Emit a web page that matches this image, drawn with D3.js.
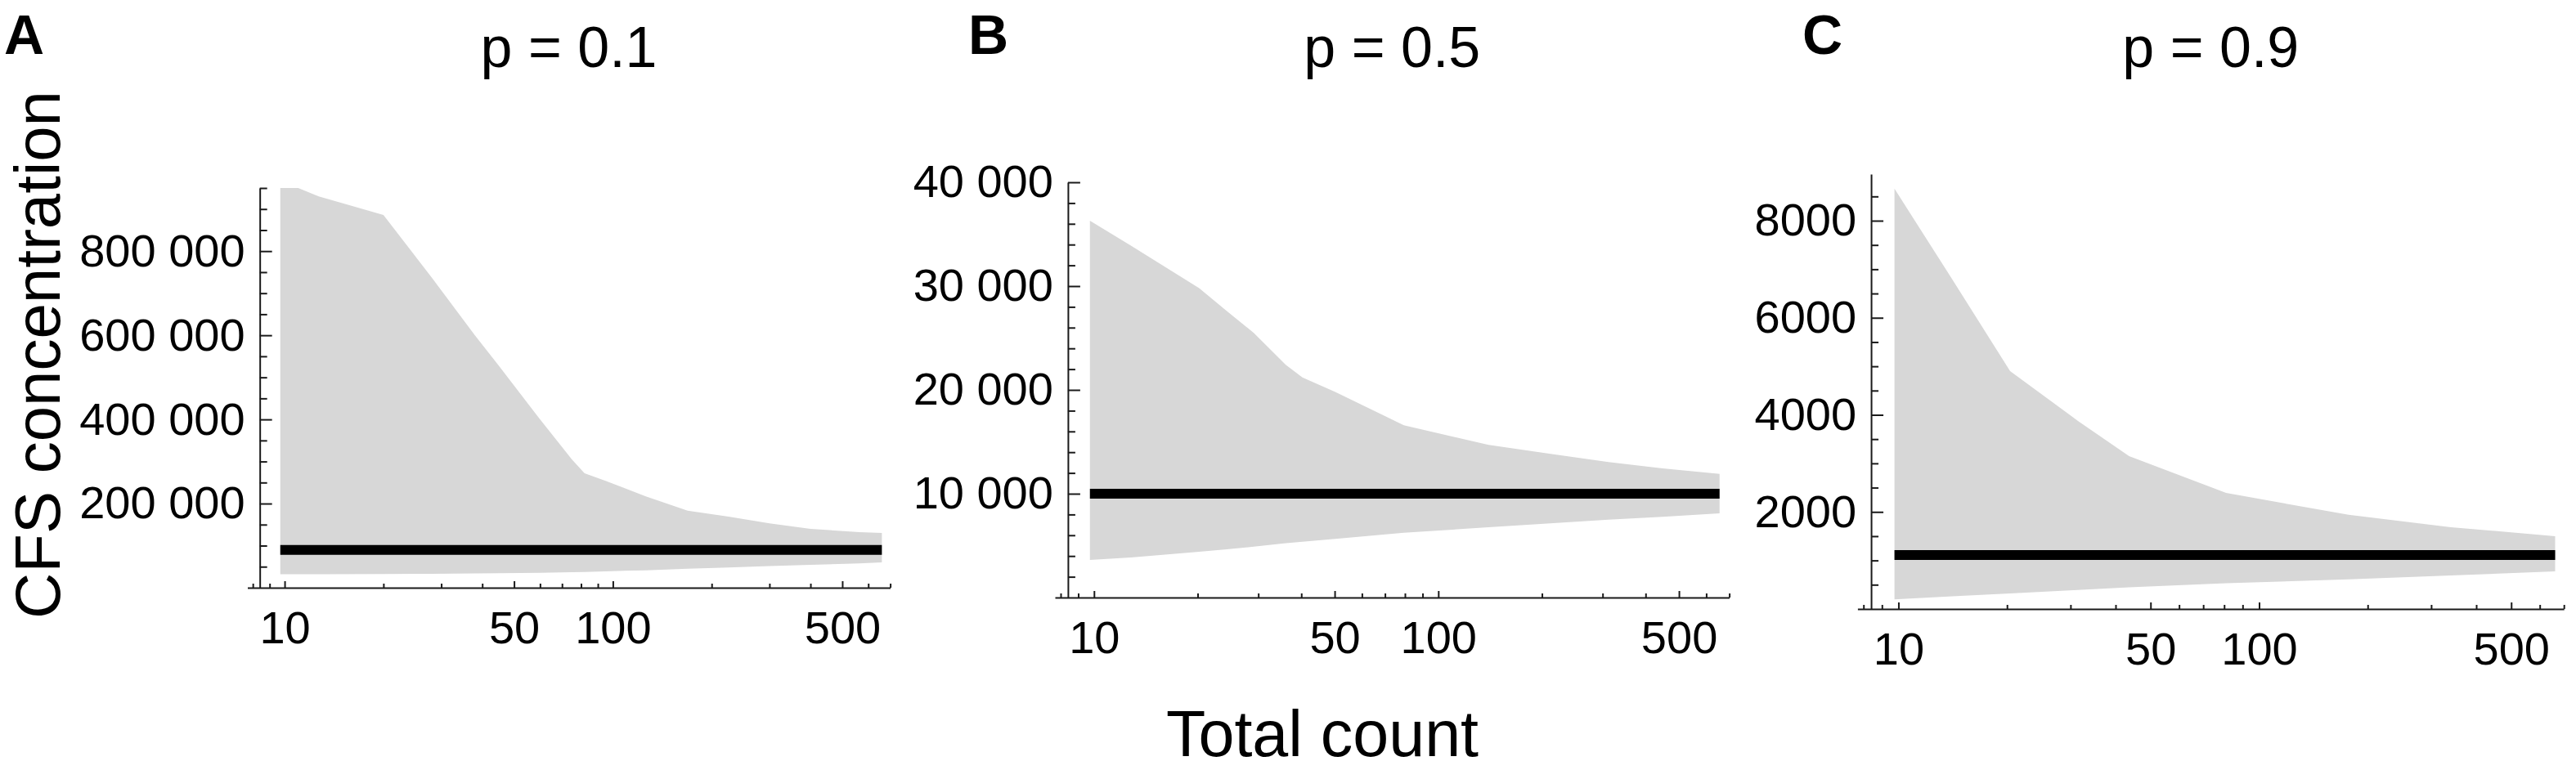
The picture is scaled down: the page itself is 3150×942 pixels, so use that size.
<!DOCTYPE html>
<html lang="en">
<head>
<meta charset="utf-8">
<title>CFS concentration vs total count</title>
<script src="https://cdn.jsdelivr.net/npm/d3@7"></script>
<style>
body { margin: 0; background: #fff; }
svg text { font-family: "Liberation Sans", Arial, sans-serif; fill: #000; }
.axis path, .axis line { stroke: #1a1a1a; stroke-width: 2; }
</style>
</head>
<body>
<div id="chart"></div>
<script>
// values (three panels, p = 0.1 / 0.5 / 0.9)
var panelLetters = ["A", "B", "C"];
var panelTitles = ["p = 0.1", "p = 0.5", "p = 0.9"];
var meanLevels = [90000, 10000, 1111];

var countsA = [9.7, 11, 12.7, 20, 28, 38, 45, 60, 75, 82, 95, 126, 169, 225, 300, 400, 563, 660];
var upperA  = [950000, 950000, 930000, 886000, 738000, 600000, 527000, 400000, 305000, 272000, 254000, 217000, 183000, 169000, 153000, 140000, 132000, 130000];
var lowerA  = [32000, 32000, 32200, 32600, 33000, 33800, 34500, 35500, 36800, 37500, 39000, 41500, 45000, 48000, 51500, 54500, 58000, 60000];

var countsB = [9.73, 12.8, 20.2, 24.3, 29.1, 36.1, 40.3, 50.2, 79.4, 140, 216, 312, 448, 656];
var upperB  = [36300, 33900, 29800, 27600, 25500, 22400, 21200, 19800, 16600, 14700, 13800, 13050, 12450, 11900];
var lowerB  = [3620, 3850, 4410, 4650, 4900, 5230, 5370, 5650, 6240, 6770, 7170, 7500, 7780, 8110];

var countsC = [9.75, 14.1, 20.4, 31.4, 43.6, 81, 177, 340, 662];
var upperC  = [8660, 6790, 4900, 3880, 3150, 2390, 1940, 1685, 1500];
var lowerC  = [200, 260, 320, 390, 445, 530, 610, 690, 775];

var counts = [countsA, countsB, countsC];
var uppers = [upperA, upperB, upperC];
var lowers = [lowerA, lowerB, lowerC];

var yMaxes = [950000, 40000, 8960];
var yMajorTicks = [
  [200000, 400000, 600000, 800000],
  [10000, 20000, 30000, 40000],
  [2000, 4000, 6000, 8000]
];
var yMinorSteps = [50000, 2000, 500];

var xDomain = [7.7, 700];
var xAxisCross = 8.4;
var xMajorTicks = [10, 50, 100, 500];
var xTickLabels = ["10", "50", "100", "500"];
var xMinorTicks = [8, 9, 20, 30, 40, 60, 70, 80, 90, 200, 300, 400, 600, 700];

// pixel boxes of the three plots
var boxes = [
  { left: 302.5, right: 1088.6, bottom: 719, top: 230, letterX: 5 },
  { left: 1290,  right: 2114.6, bottom: 731, top: 223, letterX: 1184 },
  { left: 2271.4, right: 3135.2, bottom: 745, top: 213, letterX: 2204 }
];

var svg = d3.select("#chart")
  .append("svg")
    .attr("width", 3150)
    .attr("height", 942);

function fmt(d) {
  if (d >= 10000) return d3.format(",")(d).replace(/,/g, " ");
  return String(d);
}

boxes.forEach(function(box, i) {
  var x = d3.scaleLog().domain(xDomain).range([box.left, box.right]);
  var y = d3.scaleLinear().domain([0, yMaxes[i]]).range([box.bottom, box.top]);

  var rows = counts[i].map(function(c, j) {
    return { c: c, lo: lowers[i][j], hi: uppers[i][j] };
  });

  // grey band
  svg.append("path")
    .datum(rows)
    .attr("fill", "#d7d7d7")
    .attr("d", d3.area()
      .x(function(d) { return x(d.c); })
      .y0(function(d) { return y(d.lo); })
      .y1(function(d) { return y(d.hi); }));

  // mean line
  var ends = [counts[i][0], counts[i][counts[i].length - 1]];
  svg.append("path")
    .datum(ends)
    .attr("fill", "none")
    .attr("stroke", "#000")
    .attr("stroke-width", 12)
    .attr("d", d3.line()
      .x(function(c) { return x(c); })
      .y(function() { return y(meanLevels[i]); }));

  // x axis
  svg.append("g")
    .attr("class", "axis")
    .attr("transform", "translate(0," + y(0) + ")")
    .call(d3.axisBottom(x).tickValues(xMinorTicks).tickSize(-5).tickSizeOuter(0).tickFormat(""))
    .call(function(g) { g.select(".domain").remove(); });

  svg.append("g")
    .attr("class", "axis")
    .attr("transform", "translate(0," + y(0) + ")")
    .call(d3.axisBottom(x)
      .tickValues(xMajorTicks)
      .tickFormat(function(d, k) { return xTickLabels[k]; })
      .tickSize(-8)
      .tickSizeOuter(0)
      .tickPadding(28))
    .attr("font-size", 56);

  // y axis
  var minor = d3.range(yMinorSteps[i], yMaxes[i] + 1, yMinorSteps[i])
    .filter(function(v) { return yMajorTicks[i].indexOf(v) < 0; });

  svg.append("g")
    .attr("class", "axis")
    .attr("transform", "translate(" + x(xAxisCross) + ",0)")
    .call(d3.axisLeft(y).tickValues(minor).tickSize(-9).tickSizeOuter(0).tickFormat(""))
    .call(function(g) { g.select(".domain").remove(); });

  svg.append("g")
    .attr("class", "axis")
    .attr("transform", "translate(" + x(xAxisCross) + ",0)")
    .call(d3.axisLeft(y)
      .tickValues(yMajorTicks[i])
      .tickFormat(fmt)
      .tickSize(-15)
      .tickSizeOuter(0)
      .tickPadding(18))
    .attr("font-size", 56);

  // title and panel letter
  svg.append("text")
    .attr("x", (box.left + box.right) / 2)
    .attr("y", 82)
    .attr("text-anchor", "middle")
    .attr("font-size", 70)
    .text(panelTitles[i]);

  svg.append("text")
    .attr("x", box.letterX)
    .attr("y", 66)
    .attr("font-size", 68)
    .attr("font-weight", "bold")
    .text(panelLetters[i]);
});

svg.append("text")
  .attr("transform", "translate(73,434) rotate(-90)")
  .attr("text-anchor", "middle")
  .attr("font-size", 78)
  .text("CFS concentration");

svg.append("text")
  .attr("x", 1617)
  .attr("y", 925)
  .attr("text-anchor", "middle")
  .attr("font-size", 79)
  .text("Total count");
</script>
</body>
</html>
